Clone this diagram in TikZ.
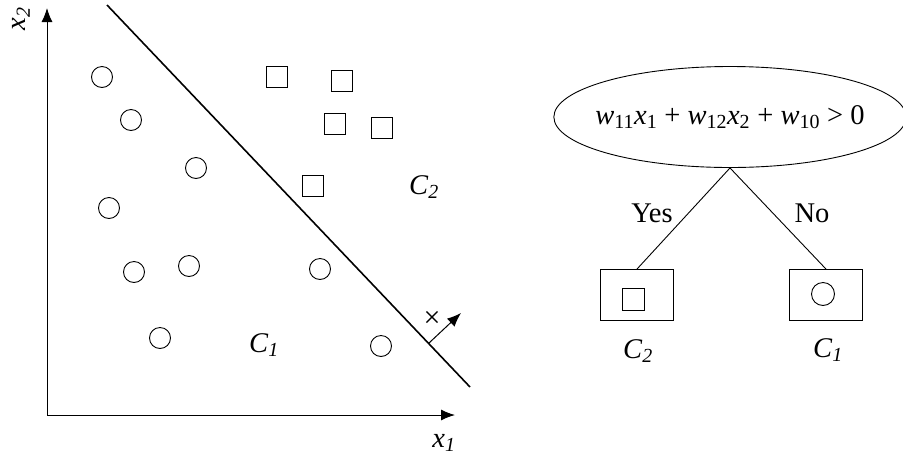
\documentclass[tikz,border=0pt]{standalone}
\usepackage{fontspec}
\setmainfont{Liberation Serif}
\usetikzlibrary{arrows.meta,shapes.geometric}
\tikzset{
  pt/.style={draw,line width=0.9pt,circle,minimum size=21pt,inner sep=0pt},
  sq/.style={draw,line width=0.9pt,rectangle,minimum size=21pt,inner sep=0pt},
  lab/.style={font=\fontsize{28.5}{30}\selectfont,inner sep=0pt},
  axis/.style={line width=1pt,-{Latex[length=14pt,width=11pt]}},
  leaf/.style={draw,line width=0.9pt,rectangle,minimum width=73pt,minimum height=51pt,inner sep=0pt},
  edge/.style={line width=0.9pt}
}
\begin{document}
\begin{tikzpicture}[x=1pt,y=-1pt]
\useasboundingbox (0,0) rectangle (903,459);
% axes
\coordinate (o) at (47,415);
\coordinate (ytip) at (47,8);
\coordinate (xtip) at (455,415);
\draw[axis] (o) -- (ytip);
\draw[axis] (o) -- (xtip);
\node[lab,rotate=90] (x2) at (21,19) {\textit{x}\textsubscript{\textit{2}}};
\node[lab] (x1) at (444,443) {\textit{x}\textsubscript{\textit{1}}};
% decision line
\coordinate (la) at (107,5);
\coordinate (lb) at (470,387);
\draw[line width=1.6pt] (la) -- (lb);
\coordinate (na) at (429,343);
\coordinate (nb) at (461,313);
\draw[line width=1pt,-{Latex[length=14pt,width=11pt]}] (na) -- (nb);
\node[inner sep=0pt,font=\fontsize{30}{30}\selectfont] (cross) at (432,319) {×};
% circles
\node[pt] (c1) at (102,77) {};
\node[pt] (c2) at (131,120) {};
\node[pt] (c3) at (196,168) {};
\node[pt] (c4) at (109,208) {};
\node[pt] (c5) at (134,272) {};
\node[pt] (c6) at (189,266) {};
\node[pt] (c7) at (160,338) {};
\node[pt] (c8) at (320,269) {};
\node[pt] (c9) at (381,346) {};
% squares
\node[sq] (s1) at (277,77) {};
\node[sq] (s2) at (342,81) {};
\node[sq] (s3) at (335,124) {};
\node[sq] (s4) at (382,128) {};
\node[sq] (s5) at (313,186) {};
% class labels
\node[lab] (lc2) at (424,187) {\textit{C}\textsubscript{\textit{2}}};
\node[lab] (lc1) at (264,345) {\textit{C}\textsubscript{\textit{1}}};
% tree
\node[draw,line width=0.9pt,ellipse,minimum width=346pt,minimum height=101pt,inner xsep=-10pt,inner ysep=0pt,font=\fontsize{28.5}{30}\selectfont] (root) at (730,117)
  {\textit{w}\textsubscript{11}\textit{x}\textsubscript{1} + \textit{w}\textsubscript{12}\textit{x}\textsubscript{2} + \textit{w}\textsubscript{10} > 0};
\node[leaf] (bl) at (637,295) {};
\node[leaf] (br) at (826,295) {};
\node[sq,minimum size=22pt] (bls) at (633,299) {};
\node[pt,minimum size=23pt] (brc) at (823,294) {};
\draw[edge] (root.south) -- (bl.north);
\draw[edge] (root.south) -- (br.north);
\node[lab] (yes) at (652,213) {Yes};
\node[lab] (no) at (812,213) {No};
\node[lab] (tc2) at (638,351) {\textit{C}\textsubscript{\textit{2}}};
\node[lab] (tc1) at (828,350) {\textit{C}\textsubscript{\textit{1}}};
\end{tikzpicture}
\end{document}
